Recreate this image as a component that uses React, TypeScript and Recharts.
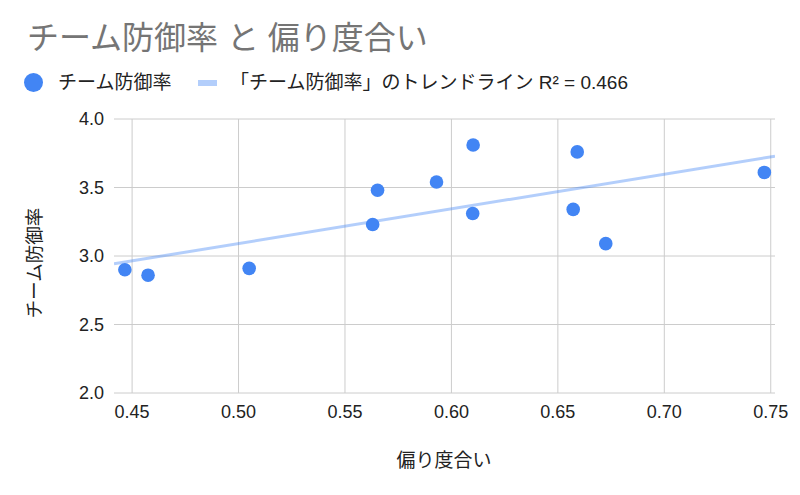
import { ScatterChart, Scatter, XAxis, YAxis, CartesianGrid } from "recharts";

const FONT = "Arial, 'Liberation Sans', 'Noto Sans CJK JP', sans-serif";
const BLUE = "#4285F4";

// 偏り度合い (x) と チーム防御率 (y)
const bias = [0.4466, 0.4575, 0.505, 0.563, 0.5653, 0.593, 0.6102, 0.61, 0.6591, 0.6572, 0.6725, 0.747];
const era = [2.9, 2.86, 2.91, 3.23, 3.48, 3.54, 3.81, 3.31, 3.76, 3.34, 3.09, 3.61];

const xTicks = [0.45, 0.5, 0.55, 0.6, 0.65, 0.7, 0.75];
const yTicks = [2.0, 2.5, 3.0, 3.5, 4.0];
const xDomain = [0.4415, 0.752];

const points = bias.map((x, i) => ({ x, y: era[i] }));

// least squares trendline across the axis range
const n = bias.length;
const mx = bias.reduce((s, v) => s + v, 0) / n;
const my = era.reduce((s, v) => s + v, 0) / n;
const sxy = bias.reduce((s, v, i) => s + (v - mx) * (era[i] - my), 0);
const sxx = bias.reduce((s, v) => s + (v - mx) ** 2, 0);
const slope = sxy / sxx;
const trend = xDomain.map((x) => ({ x, y: my + slope * (x - mx) }));

const noDot = () => null;

export default function App() {
  return (
    <div style={{ position: "absolute", left: 0, top: 0, width: 800, height: 495, fontFamily: FONT, background: "#fff" }}>
      <div style={{ position: "absolute", left: 27, top: 21, fontSize: 32, lineHeight: "34px", color: "#757575", whiteSpace: "nowrap" }}>
        チーム防御率 と 偏り度合い
      </div>
      <div style={{ position: "absolute", left: 0, top: 72, height: 22, width: 800, fontSize: 19, color: "#222", whiteSpace: "nowrap" }}>
        <span style={{ position: "absolute", left: 24, top: 1, width: 19, height: 19, borderRadius: "50%", background: BLUE }} />
        <span style={{ position: "absolute", left: 58, top: 0, lineHeight: "22px" }}>チーム防御率</span>
        <span style={{ position: "absolute", left: 198, top: 8, width: 19, height: 6, background: BLUE, opacity: 0.4 }} />
        <span style={{ position: "absolute", left: 230, top: 0, lineHeight: "22px" }}>「チーム防御率」のトレンドライン R² = 0.466</span>
      </div>
      <div
        style={{
          position: "absolute", left: 33, top: 263, fontSize: 18.5, color: "#222", whiteSpace: "nowrap",
          transform: "translate(-50%, -50%) rotate(-90deg)",
        }}
      >
        チーム防御率
      </div>
      <div style={{ position: "absolute", left: 444, top: 458, fontSize: 19, color: "#222", whiteSpace: "nowrap", transform: "translate(-50%, -50%)" }}>
        偏り度合い
      </div>
      <ScatterChart width={800} height={495} margin={{ top: 119, right: 25, bottom: 72, left: 0 }}>
        <CartesianGrid stroke="#cccccc" strokeWidth={1} horizontalValues={yTicks} verticalValues={xTicks} />
        <XAxis
          type="number"
          dataKey="x"
          domain={xDomain}
          ticks={xTicks}
          allowDataOverflow
          axisLine={false}
          tickLine={false}
          tickSize={0}
          tickMargin={12}
          height={30}
          tickFormatter={(v: number) => v.toFixed(2)}
          tick={{ fill: "#222", fontSize: 18, fontFamily: FONT }}
        />
        <YAxis
          type="number"
          dataKey="y"
          domain={[2, 4]}
          ticks={yTicks}
          allowDataOverflow
          axisLine={false}
          tickLine={false}
          tickSize={0}
          tickMargin={10}
          width={114}
          tickFormatter={(v: number) => v.toFixed(1)}
          tick={{ fill: "#222", fontSize: 18, fontFamily: FONT }}
        />
        <Scatter
          data={trend}
          line={{ stroke: BLUE, strokeOpacity: 0.4, strokeWidth: 3 }}
          shape={noDot}
          isAnimationActive={false}
        />
        <Scatter
          data={points}
          fill={BLUE}
          shape={(p: any) => <circle cx={p.cx} cy={p.cy} r={6.8} fill={BLUE} />}
          isAnimationActive={false}
        />
      </ScatterChart>
    </div>
  );
}
